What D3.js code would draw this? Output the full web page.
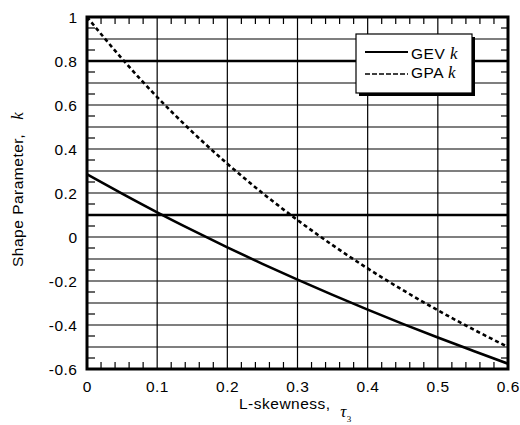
<!DOCTYPE html>
<html><head><meta charset="utf-8">
<script src="https://cdn.jsdelivr.net/npm/d3@7"></script>
<style>body{margin:0;background:#fff}svg{display:block}</style>
</head><body>
<div id="chart"></div>
<script>
const tau = [0,0.05,0.1,0.15,0.2,0.25,0.3,0.35,0.4,0.45,0.5,0.55,0.6];
const gevK = [0.285,0.197,0.112,0.031,-0.047,-0.122,-0.194,-0.263,-0.330,-0.395,-0.457,-0.517,-0.576];
const gpaK = [1.0,0.810,0.636,0.478,0.333,0.200,0.077,-0.037,-0.143,-0.241,-0.333,-0.419,-0.500];
const xTicks = [0,0.1,0.2,0.3,0.4,0.5,0.6];
const xTickLabels = ["0","0.1","0.2","0.3","0.4","0.5","0.6"];
const yTicks = [-0.6,-0.4,-0.2,0,0.2,0.4,0.6,0.8,1];
const yTickLabels = ["-0.6","-0.4","-0.2","0","0.2","0.4","0.6","0.8","1"];
const refLines = [0.8,0.1];
const seriesNames = ["GEV","GPA"];

const W=520,H=425, L=87, R=508, T=17, B=369;
const FS=15.5, LS=0.5;
const svg=d3.select("#chart").append("svg").attr("width",W).attr("height",H)
  .style("font-family","'Liberation Sans', Arial, sans-serif");
const x=d3.scaleLinear().domain([0,0.6]).range([L,R]);
const y=d3.scaleLinear().domain([-0.6,1]).range([B,T]);

// grid
const g=svg.append("g");
const xGrid=d3.range(1,6).map(i=>i/10);
const yGrid=d3.range(-5,10).map(i=>i/10);
g.selectAll(".vg").data(xGrid).join("line").attr("x1",d=>x(d)).attr("x2",d=>x(d))
  .attr("y1",T).attr("y2",B).attr("stroke","#000").attr("stroke-width",1.2);
g.selectAll(".hg").data(yGrid).join("line").attr("x1",L).attr("x2",R)
  .attr("y1",d=>y(d)).attr("y2",d=>y(d)).attr("stroke","#000")
  .attr("stroke-width",d=>refLines.some(r=>Math.abs(r-d)<1e-9)?2.6:1.2);

// minor ticks
const xMinor=d3.range(1,30).map(i=>i*0.02).filter(v=>Math.abs(v*10-Math.round(v*10))>1e-6);
g.selectAll(".xb").data(xMinor).join("line").attr("x1",d=>x(d)).attr("x2",d=>x(d))
  .attr("y1",B).attr("y2",B-7).attr("stroke","#000").attr("stroke-width",1.2);
g.selectAll(".xt").data(xMinor).join("line").attr("x1",d=>x(d)).attr("x2",d=>x(d))
  .attr("y1",T).attr("y2",T+7).attr("stroke","#000").attr("stroke-width",1.2);
const yMinor=d3.range(-11,20,2).map(i=>i*0.05);
g.selectAll(".yl").data(yMinor).join("line").attr("x1",L).attr("x2",L+8)
  .attr("y1",d=>y(d)).attr("y2",d=>y(d)).attr("stroke","#000").attr("stroke-width",1.2);
g.selectAll(".yr").data(yMinor).join("line").attr("x1",R).attr("x2",R-7)
  .attr("y1",d=>y(d)).attr("y2",d=>y(d)).attr("stroke","#000").attr("stroke-width",1.2);

// curves
const line=d3.line().x(d=>x(d[0])).y(d=>y(d[1])).curve(d3.curveMonotoneX);
svg.append("clipPath").attr("id","c").append("rect").attr("x",L).attr("y",T).attr("width",R-L).attr("height",B-T);
svg.append("path").attr("clip-path","url(#c)").datum(tau.map((t,i)=>[t,gevK[i]])).attr("d",line)
  .attr("fill","none").attr("stroke","#000").attr("stroke-width",2.6);
svg.append("path").attr("clip-path","url(#c)").datum(tau.map((t,i)=>[t,gpaK[i]])).attr("d",line)
  .attr("fill","none").attr("stroke","#000").attr("stroke-width",2.6).attr("stroke-dasharray","4,3");

// frame
svg.append("rect").attr("x",L).attr("y",T).attr("width",R-L).attr("height",B-T)
  .attr("fill","none").attr("stroke","#000").attr("stroke-width",3);

// axis labels
svg.selectAll(".xl").data(xTicks).join("text").attr("x",d=>x(d)+LS/2).attr("y",392)
  .attr("text-anchor","middle").attr("font-size",FS).attr("letter-spacing",LS).text((d,i)=>xTickLabels[i]);
svg.selectAll(".ylb").data(yTicks).join("text").attr("x",77+LS).attr("y",d=>y(d)+5.5)
  .attr("text-anchor","end").attr("font-size",FS).attr("letter-spacing",LS).text((d,i)=>yTickLabels[i]);

// titles
const xt=svg.append("text").attr("x",239).attr("y",409).attr("font-size",FS).attr("letter-spacing",LS);
xt.append("tspan").text("L-skewness,\u00a0\u00a0");
xt.append("tspan").attr("font-family","'Liberation Serif', 'Times New Roman', serif").attr("font-style","italic").attr("font-size",17).attr("dy",8).text("\u03c4");
xt.append("tspan").attr("font-family","'Liberation Serif', serif").attr("font-size",9).attr("dy",5).text("3");
const yt=svg.append("text").attr("transform","translate(23,267) rotate(-90)").attr("font-size",FS).attr("letter-spacing",LS);
yt.append("tspan").text("Shape Parameter,\u00a0\u00a0\u00a0");
yt.append("tspan").attr("font-family","'Liberation Serif', 'Times New Roman', serif").attr("font-style","italic").attr("font-size",17).text("k");

// legend
const lg=svg.append("g");
lg.append("rect").attr("x",359).attr("y",37).attr("width",116).attr("height",59).attr("fill","#000");
lg.append("rect").attr("x",356).attr("y",34).attr("width",116).attr("height",59).attr("fill","#fff").attr("stroke","#000").attr("stroke-width",1.2);
const dashes=[null,"5,2"];
seriesNames.forEach((n,i)=>{
  const ly=52+i*22, ty=59+i*19;
  lg.append("line").attr("x1",365).attr("x2",408).attr("y1",ly).attr("y2",ly).attr("stroke","#000")
    .attr("stroke-width",i===0?2:1.6).attr("stroke-dasharray",dashes[i]);
  const t=lg.append("text").attr("x",411).attr("y",ty).attr("font-size",FS).attr("letter-spacing",LS);
  t.append("tspan").text(n+" ");
  t.append("tspan").attr("font-family","'Liberation Serif', serif").attr("font-style","italic").attr("font-size",17).text("k");
});
</script>
</body></html>
